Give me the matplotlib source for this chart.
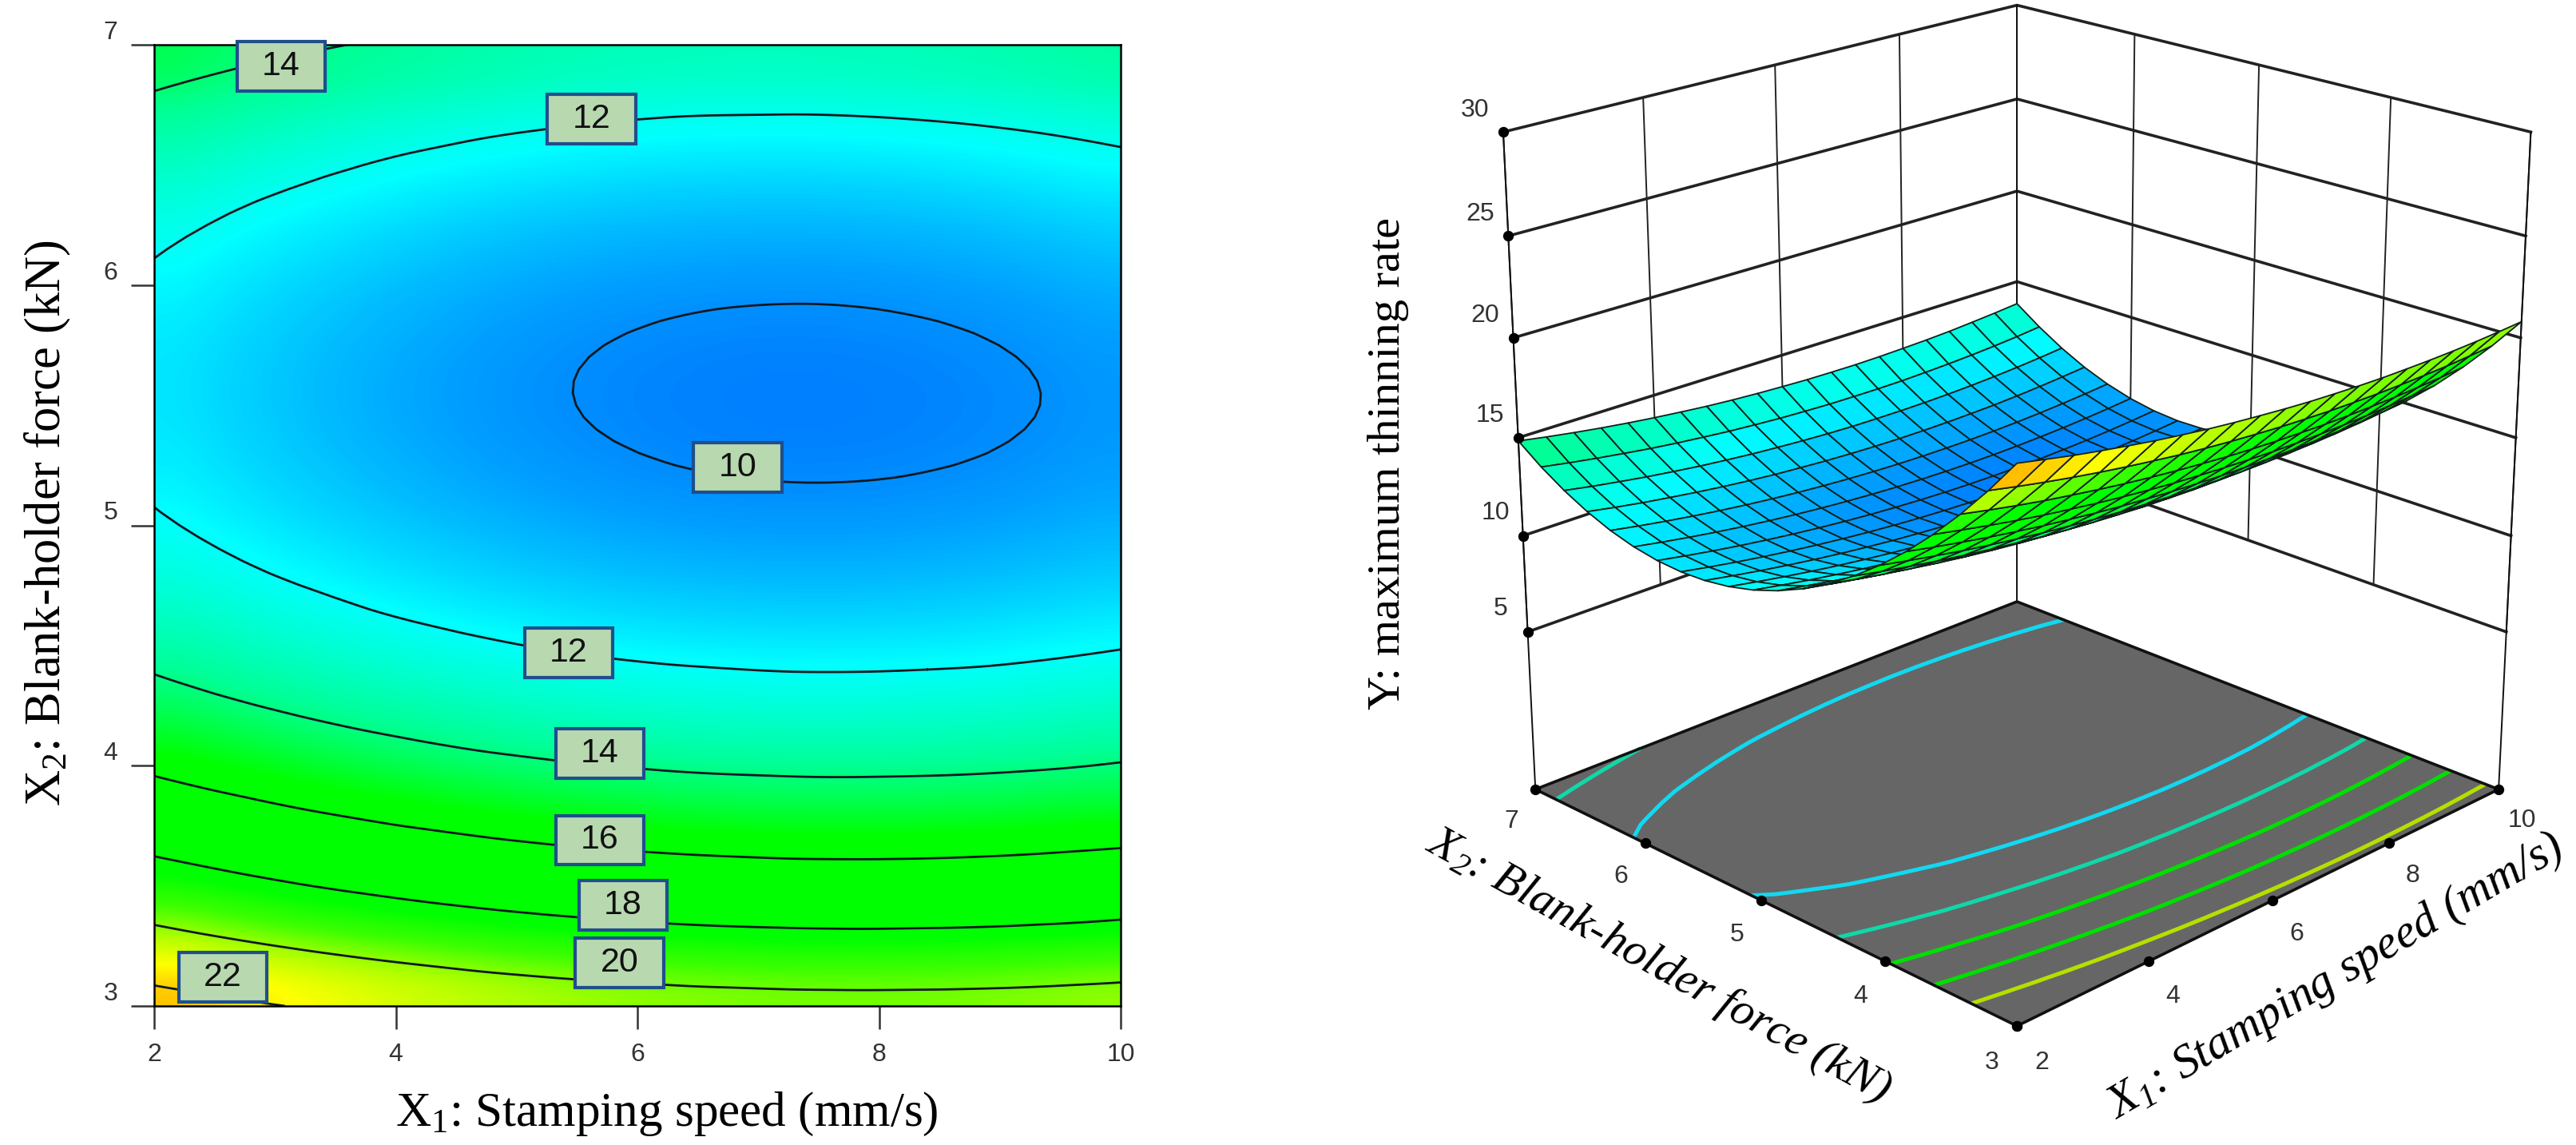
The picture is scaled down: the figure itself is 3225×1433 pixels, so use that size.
# Response surface of maximum thinning rate: contour map and 3D view
import numpy as np
import matplotlib
matplotlib.use('Agg')
import matplotlib.pyplot as plt
import matplotlib.tri as mtri
from matplotlib.colors import LinearSegmentedColormap, Normalize
from matplotlib.patches import Rectangle

plt.rcParams['font.family'] = ['Liberation Serif', 'DejaVu Serif']
plt.rcParams['mathtext.default'] = 'regular'

W, H = 3225, 1433
DPI = 200
TICK_FONT = ['Liberation Sans Narrow', 'Liberation Sans']

x_ticks = [2, 4, 6, 8, 10]
y_ticks = [3, 4, 5, 6, 7]
z_ticks = [5, 10, 15, 20, 25, 30]

stamping_speed = [2, 2.4, 2.8, 3.2, 3.6, 4, 4.4, 4.8, 5.2, 5.6, 6, 6.4, 6.8, 7.2, 7.6, 8, 8.4, 8.8, 9.2, 9.6, 10]
holder_force = [3, 3.2, 3.4, 3.6, 3.8, 4, 4.2, 4.4, 4.6, 4.8, 5, 5.2, 5.4, 5.6, 5.8, 6, 6.2, 6.4, 6.6, 6.8, 7]

# thinning rate, one row per holder_force value, one column per stamping_speed value
thinning_rate = [
    [22.72, 22.44, 22.17, 21.93, 21.71, 21.50, 21.32, 21.15, 21.01, 20.89, 20.78, 20.69, 20.63, 20.58, 20.55, 20.55, 20.56, 20.59, 20.64, 20.71, 20.80],
    [21.06, 20.78, 20.52, 20.28, 20.06, 19.86, 19.68, 19.51, 19.37, 19.25, 19.15, 19.06, 19.00, 18.95, 18.93, 18.92, 18.94, 18.97, 19.02, 19.10, 19.19],
    [19.54, 19.26, 19.00, 18.76, 18.55, 18.35, 18.17, 18.01, 17.87, 17.75, 17.64, 17.56, 17.50, 17.46, 17.43, 17.43, 17.45, 17.48, 17.54, 17.61, 17.71],
    [18.15, 17.88, 17.62, 17.38, 17.16, 16.97, 16.79, 16.63, 16.49, 16.37, 16.28, 16.20, 16.14, 16.09, 16.07, 16.07, 16.09, 16.13, 16.19, 16.27, 16.36],
    [16.89, 16.62, 16.37, 16.13, 15.92, 15.72, 15.55, 15.39, 15.25, 15.14, 15.04, 14.96, 14.90, 14.87, 14.85, 14.85, 14.87, 14.91, 14.97, 15.05, 15.15],
    [15.77, 15.50, 15.25, 15.01, 14.80, 14.61, 14.43, 14.28, 14.15, 14.03, 13.94, 13.86, 13.81, 13.77, 13.75, 13.76, 13.78, 13.82, 13.88, 13.96, 14.07],
    [14.78, 14.51, 14.26, 14.03, 13.82, 13.63, 13.46, 13.30, 13.17, 13.06, 12.97, 12.89, 12.84, 12.80, 12.79, 12.80, 12.82, 12.87, 12.93, 13.01, 13.12],
    [13.92, 13.65, 13.40, 13.18, 12.97, 12.78, 12.61, 12.46, 12.33, 12.22, 12.13, 12.06, 12.01, 11.97, 11.96, 11.97, 12.00, 12.04, 12.11, 12.20, 12.30],
    [13.19, 12.93, 12.68, 12.46, 12.25, 12.06, 11.90, 11.75, 11.62, 11.51, 11.42, 11.35, 11.31, 11.28, 11.27, 11.28, 11.30, 11.35, 11.42, 11.51, 11.62],
    [12.60, 12.34, 12.09, 11.87, 11.67, 11.48, 11.32, 11.17, 11.05, 10.94, 10.85, 10.79, 10.74, 10.71, 10.70, 10.71, 10.75, 10.80, 10.87, 10.96, 11.07],
    [12.139, 11.878, 11.636, 11.414, 11.212, 11.031, 10.868, 10.724, 10.601, 10.497, 10.412, 10.348, 10.303, 10.277, 10.271, 10.285, 10.318, 10.372, 10.445, 10.537, 10.648],
    [11.811, 11.553, 11.313, 11.093, 10.893, 10.714, 10.553, 10.411, 10.290, 10.189, 10.106, 10.043, 10.001, 9.977, 9.973, 9.989, 10.025, 10.080, 10.155, 10.250, 10.363],
    [11.617, 11.360, 11.122, 10.905, 10.707, 10.530, 10.371, 10.231, 10.113, 10.013, 9.933, 9.872, 9.831, 9.810, 9.808, 9.827, 9.864, 9.921, 9.999, 10.095, 10.211],
    [11.555, 11.300, 11.065, 10.850, 10.654, 10.479, 10.322, 10.185, 10.068, 9.971, 9.892, 9.834, 9.795, 9.776, 9.776, 9.797, 9.836, 9.896, 9.975, 10.074, 10.191],
    [11.626, 11.373, 11.140, 10.927, 10.734, 10.560, 10.406, 10.271, 10.156, 10.061, 9.985, 9.928, 9.892, 9.875, 9.877, 9.900, 9.942, 10.003, 10.085, 10.186, 10.305],
    [11.829, 11.579, 11.348, 11.137, 10.945, 10.774, 10.622, 10.489, 10.377, 10.283, 10.209, 10.155, 10.121, 10.106, 10.110, 10.135, 10.179, 10.243, 10.327, 10.429, 10.551],
    [12.166, 11.917, 11.688, 11.479, 11.290, 11.121, 10.971, 10.840, 10.730, 10.639, 10.567, 10.515, 10.483, 10.470, 10.476, 10.503, 10.549, 10.615, 10.701, 10.806, 10.930],
    [12.64, 12.39, 12.16, 11.96, 11.77, 11.60, 11.45, 11.32, 11.22, 11.13, 11.06, 11.01, 10.98, 10.97, 10.98, 11.01, 11.05, 11.12, 11.21, 11.32, 11.44],
    [13.24, 12.99, 12.77, 12.56, 12.38, 12.21, 12.07, 11.94, 11.84, 11.75, 11.68, 11.63, 11.61, 11.60, 11.61, 11.64, 11.69, 11.76, 11.85, 11.96, 12.09],
    [13.97, 13.73, 13.51, 13.31, 13.12, 12.96, 12.82, 12.69, 12.59, 12.50, 12.44, 12.39, 12.37, 12.36, 12.37, 12.41, 12.46, 12.53, 12.62, 12.73, 12.87],
    [14.84, 14.60, 14.38, 14.18, 14.00, 13.84, 13.70, 13.57, 13.47, 13.39, 13.33, 13.28, 13.26, 13.25, 13.27, 13.31, 13.36, 13.43, 13.53, 13.64, 13.77],
]

contour_levels = [10, 12, 14, 16, 18, 20, 22]
floor_levels = [12, 14, 16, 18, 20]
floor_colors = ['#12d8f0', '#10d8a8', '#00e000', '#00e000', '#b4e000']

label_levels = [14, 12, 10, 12, 14, 16, 18, 20, 22]
label_x = [3.05, 5.62, 6.83, 5.43, 5.69, 5.69, 5.88, 5.85, 2.57]
label_y = [6.91, 6.69, 5.24, 4.47, 4.05, 3.69, 3.42, 3.18, 3.12]

X, Y = np.meshgrid(stamping_speed, holder_force)
Z = np.array(thinning_rate)

# colour scale of the surface, anchored on thinning rate values
z_lo, z_hi = 9.77, 22.72
anchors = [(9.77, '#0080ff'), (12, '#00ffff'), (14, '#00ff96'), (15.8, '#00ff00'), (19, '#00ff00'),
           (20, '#3cff00'), (21, '#aaff00'), (22, '#ffff00'), (22.72, '#ffbe00')]
cmap = LinearSegmentedColormap.from_list('thinning', [((v - z_lo) / (z_hi - z_lo), c) for v, c in anchors])
norm = Normalize(z_lo, z_hi)

fig = plt.figure(figsize=(W / DPI, H / DPI), dpi=DPI, facecolor='white')

# left panel, contour map
ax = fig.add_axes([193 / W, 1 - 1259 / H, 1210 / W, 1203 / H])
ax.imshow(Z, extent=[2, 10, 3, 7], origin='lower', aspect='auto', cmap=cmap, norm=norm, interpolation='bicubic')
# smooth rendering of the contour lines on matplotlib's own refined mesh
tri = mtri.Triangulation(X.ravel(), Y.ravel())
tri_fine, z_fine = mtri.UniformTriRefiner(tri).refine_field(Z.ravel(), subdiv=2)
ax.tricontour(tri_fine, z_fine, levels=contour_levels, colors='#101820', linewidths=1.0)
for level, lx, ly in zip(label_levels, label_x, label_y):
    ax.add_patch(Rectangle((lx - 0.365, ly - 0.103), 0.73, 0.206, facecolor='#b8d8b0', edgecolor='#1f4e8c',
                           linewidth=1.5, clip_on=False, zorder=4))
    ax.text(lx, ly, str(level), ha='center', va='center', fontsize=15.5, family=TICK_FONT, color='#111111', zorder=5)
ax.set_xlim(2, 10)
ax.set_ylim(3, 7)
ax.set_xticks(x_ticks)
ax.set_yticks(y_ticks)
ax.tick_params(length=10.5, width=0.9, color='#333333', labelsize=11.5, pad=6)
for t in ax.get_xticklabels() + ax.get_yticklabels():
    t.set_fontfamily(TICK_FONT)
    t.set_color('#333333')
for t in ax.get_yticklabels():
    t.set_verticalalignment('bottom')
for s in ax.spines.values():
    s.set_linewidth(0.9)
fig.text(835 / W, 1 - 1394 / H, 'X$_1$: Stamping speed (mm/s)', fontsize=22, ha='center', va='center')
fig.text(60 / W, 1 - 655 / H, 'X$_2$: Blank-holder force (kN)', fontsize=22.5, ha='center', va='center', rotation=90)

# right panel, 3D surface
floor_z = -3.4
ax3 = fig.add_axes([1683 / W, -194 / H, 1640 / W, 2030 / H], projection='3d', computed_zorder=False)
ax3.set_proj_type('persp', focal_length=0.55)
ax3.view_init(elev=21, azim=-135)
ax3.set_box_aspect((1, 1, 1.0), zoom=0.9025)
ax3.set_xlim(2, 10)
ax3.set_ylim(3, 7)
ax3.set_zlim(floor_z, 30)
# the default 3D axes are hidden, everything is drawn below from the tick lists
ax3.set_xticks([])
ax3.set_yticks([])
ax3.set_zticks([])
ax3.set_axis_off()
ax3.patch.set_alpha(0)

x0, x1 = x_ticks[0], x_ticks[-1]
y0, y1 = y_ticks[0], y_ticks[-1]
zt = z_ticks[-1]
fx, fy = np.meshgrid([x0, x1], [y0, y1])
ax3.plot_surface(fx, fy, np.full(fx.shape, floor_z), color='#666666', shade=False, zorder=1)
ax3.contour(X, Y, Z, levels=floor_levels, colors=floor_colors, linewidths=1.8, zdir='z', offset=floor_z, zorder=2)

# wall grid
for z in z_ticks:
    ax3.plot([x0, x1, x1], [y1, y1, y0], [z, z, z], color='#222222', lw=1.3, zorder=3)
for x in x_ticks:
    ax3.plot([x, x], [y1, y1], [z_ticks[0], zt], color='#222222', lw=0.7, zorder=3)
for y in y_ticks:
    ax3.plot([x1, x1], [y, y], [z_ticks[0], zt], color='#222222', lw=0.7, zorder=3)
# box edges
ax3.plot([x0, x0], [y1, y1], [floor_z, zt], color='#111111', lw=0.7, zorder=3)
ax3.plot([x1, x1], [y0, y0], [floor_z, zt], color='#111111', lw=0.7, zorder=3)
ax3.plot([x1, x1], [y1, y1], [floor_z, zt], color='#111111', lw=0.7, zorder=3)
ax3.plot([x0, x1, x1, x0, x0], [y0, y0, y1, y1, y0], [floor_z] * 5, color='#111111', lw=1.3, zorder=3)

ax3.plot_surface(X, Y, Z, rstride=1, cstride=1, facecolors=cmap(norm(Z)), edgecolor='#102018', linewidth=0.65,
                 shade=False, zorder=5)

# tick dots and labels
ax3.plot([x0] * len(z_ticks), [y1] * len(z_ticks), z_ticks, 'o', color='black', ms=3.8, zorder=6)
ax3.plot(x_ticks, [y0] * len(x_ticks), [floor_z] * len(x_ticks), 'o', color='black', ms=3.8, zorder=6)
ax3.plot([x0] * len(y_ticks), y_ticks, [floor_z] * len(y_ticks), 'o', color='black', ms=3.8, zorder=6)
for z in z_ticks:
    ax3.text(x0, y1 + 0.25, z + 0.6, str(z), ha='center', va='center', fontsize=11.5, family=TICK_FONT, color='#333333', zorder=7)
for x in x_ticks:
    ax3.text(x, y0 - 0.18, floor_z - 1.2, str(x), ha='center', va='center', fontsize=11.5, family=TICK_FONT, color='#333333', zorder=7)
for y in y_ticks:
    ax3.text(x0 - 0.37, y, floor_z - 1.2, str(y), ha='center', va='center', fontsize=11.5, family=TICK_FONT, color='#333333', zorder=7)

fig.text(1738 / W, 1 - 580 / H, 'Y: maximum thinning rate', fontsize=21, ha='center', va='center', rotation=90)
fig.text(2076 / W, 1 - 1209 / H, 'X$_2$: Blank-holder force (kN)', fontsize=21, style='italic', ha='center', va='center', rotation=-29)
fig.text(2924 / W, 1 - 1223 / H, 'X$_1$: Stamping speed (mm/s)', fontsize=21.5, style='italic', ha='center', va='center', rotation=30.5)

fig.savefig('out.png', dpi=DPI, facecolor='white')
